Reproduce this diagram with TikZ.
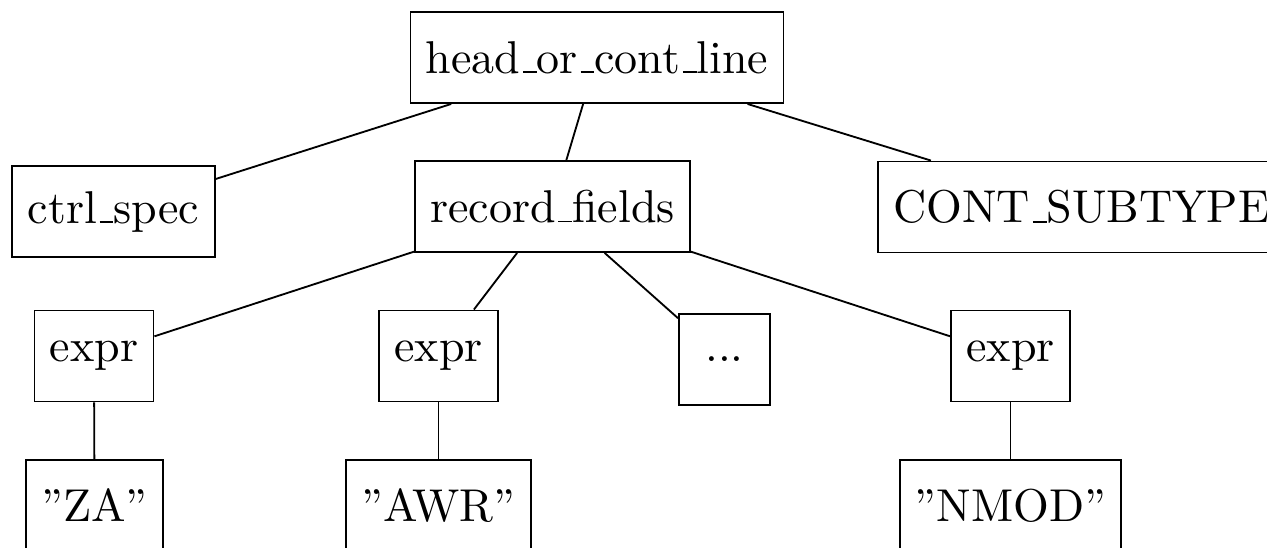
\documentclass[tikz,border=0pt]{standalone}
\usepackage{tikz}
\newcommand{\usc}{\leavevmode\kern.06em\vbox{\hrule width.3em}}

\begin{document}
\begin{tikzpicture}[x=0.2174pt,y=-0.2174pt,
    box/.style={draw,rectangle,minimum size=19.8pt}]
      \clip (0,0) rectangle (1267,547);
      \node[box] (head) at (597,57.5) {head\usc or\usc cont\usc line};
      \node[box] (ctrl) at (113.5,211.5) {ctrl\usc spec};
      \node[box] (rec) at (552.5,206.5) {record\usc fields};
      \node[box] (sub) at (1081.5,207) {CONT\usc SUBTYPE};
      \node[box] (expra) at (94,356) {expr};
      \node[box] (exprb) at (438.5,356) {expr};
      \node[box] (dots) at (724.5,359.5) {...};
      \node[box] (exprc) at (1010.5,356) {expr};
      \node[box] (za) at (94.5,505.5) {''ZA''};
      \node[box] (awr) at (438.5,505.5) {''AWR''};
      \node[box] (nmod) at (1010.5,505.5) {''NMOD''};

      \draw (head) -- (ctrl);
      \draw (head) -- (rec);
      \draw (head) -- (sub);
      \draw (rec) -- (expra);
      \draw (rec) -- (exprb);
      \draw (rec) -- (dots);
      \draw (rec) -- (exprc);
      \draw (expra) -- (za);
      \draw (exprb) -- (awr);
      \draw (exprc) -- (nmod);
\end{tikzpicture}
\end{document}
